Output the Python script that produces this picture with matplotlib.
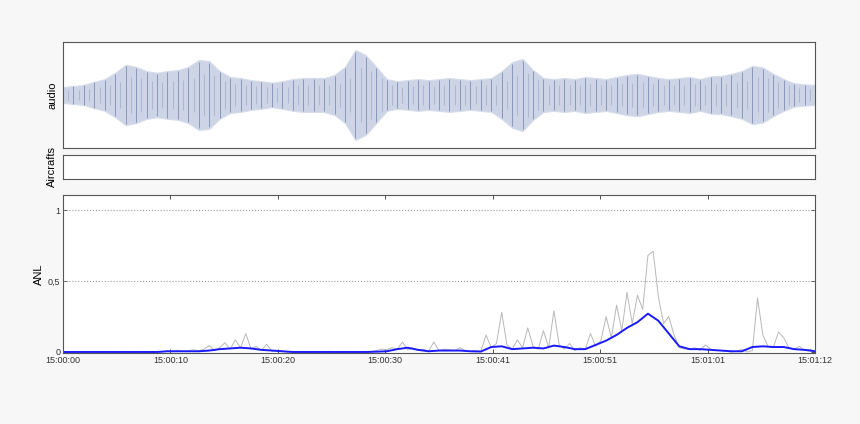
import matplotlib.pyplot as plt
import numpy as np

plt.rcParams['font.family'] = ['Liberation Sans', 'DejaVu Sans']

# audio envelope (amplitude, one value per second, 0..72 s)
audio_env = [0.15, 0.17, 0.19, 0.25, 0.30, 0.42, 0.57, 0.53, 0.45, 0.42,
             0.45, 0.47, 0.53, 0.66, 0.64, 0.45, 0.34, 0.32, 0.28, 0.26,
             0.23, 0.26, 0.30, 0.32, 0.32, 0.32, 0.38, 0.53, 0.85, 0.75,
             0.53, 0.30, 0.26, 0.28, 0.30, 0.28, 0.30, 0.32, 0.30, 0.28,
             0.30, 0.32, 0.45, 0.62, 0.68, 0.47, 0.32, 0.30, 0.32, 0.30,
             0.34, 0.32, 0.30, 0.34, 0.38, 0.40, 0.36, 0.32, 0.30, 0.32,
             0.34, 0.30, 0.35, 0.36, 0.40, 0.45, 0.55, 0.52, 0.40, 0.30,
             0.22, 0.20, 0.19]
audio_t = np.arange(len(audio_env))

# raw ANL, every 0.5 s
anl_raw = [0.0, 0.0, 0.0, 0.003, 0.0, 0.0, 0.002, 0.0, 0.0, 0.002,
           0.0, 0.0, 0.003, 0.0, 0.0, 0.002, 0.0, 0.0, 0.002, 0.0,
           0.008, 0.004, 0.012, 0.006, 0.01, 0.015, 0.008, 0.02, 0.045, 0.01,
           0.03, 0.065, 0.02, 0.085, 0.03, 0.13, 0.02, 0.04, 0.01, 0.055,
           0.005, 0.01, 0.003, 0.0, 0.0, 0.002, 0.0, 0.0, 0.003, 0.0,
           0.0, 0.005, 0.0, 0.0, 0.002, 0.0, 0.0, 0.0, 0.0, 0.003,
           0.01, 0.02, 0.015, 0.03, 0.02, 0.07, 0.015, 0.03, 0.01, 0.02,
           0.005, 0.07, 0.01, 0.02, 0.015, 0.01, 0.03, 0.01, 0.005, 0.01,
           0.005, 0.12, 0.03, 0.06, 0.28, 0.05, 0.02, 0.085, 0.03, 0.17,
           0.04, 0.02, 0.15, 0.03, 0.29, 0.05, 0.02, 0.06, 0.01, 0.03,
           0.02, 0.13, 0.04, 0.08, 0.25, 0.10, 0.33, 0.15, 0.42, 0.20,
           0.40, 0.30, 0.68, 0.71, 0.39, 0.20, 0.25, 0.12, 0.03, 0.02,
           0.02, 0.03, 0.01, 0.05, 0.02, 0.01, 0.01, 0.005, 0.0, 0.005,
           0.02, 0.0, 0.01, 0.38, 0.12, 0.04, 0.03, 0.14, 0.10, 0.03,
           0.02, 0.04, 0.01, 0.02, 0.005]
raw_t = np.arange(len(anl_raw)) * 0.5

# smoothed ANL, one value per second
anl_smooth = [0.0, 0.0, 0.0, 0.0, 0.0, 0.0, 0.0, 0.0, 0.0, 0.0,
              0.005, 0.005, 0.005, 0.005, 0.01, 0.02, 0.025, 0.03, 0.025, 0.015,
              0.01, 0.005, 0.0, 0.0, 0.0, 0.0, 0.0, 0.0, 0.0, 0.0,
              0.002, 0.005, 0.02, 0.03, 0.015, 0.005, 0.01, 0.01, 0.01, 0.005,
              0.003, 0.035, 0.04, 0.02, 0.025, 0.03, 0.025, 0.045, 0.035, 0.02,
              0.02, 0.05, 0.08, 0.12, 0.17, 0.21, 0.27, 0.22, 0.13, 0.04,
              0.02, 0.02, 0.015, 0.01, 0.005, 0.005, 0.035, 0.04, 0.035, 0.035,
              0.02, 0.015, 0.005]
smooth_t = np.arange(len(anl_smooth))

tick_pos = np.linspace(0, 72, 8)
tick_labels = ['15:00:00', '15:00:10', '15:00:20', '15:00:30',
               '15:00:41', '15:00:51', '15:01:01', '15:01:12']

fig = plt.figure(figsize=(8.6, 4.24), dpi=100, facecolor='#f7f7f7')
left, width = 0.0733, 0.8744
ax1 = fig.add_axes([left, 0.651, width, 0.25])
ax2 = fig.add_axes([left, 0.578, width, 0.0566])
ax3 = fig.add_axes([left, 0.1675, width, 0.3726])

for ax in (ax1, ax2, ax3):
    ax.set_xlim(0, 72)
    for s in ax.spines.values():
        s.set_color('#555555')
        s.set_linewidth(0.8)

# audio
env = np.array(audio_env)
ax1.fill_between(audio_t, -env, env, color='#cdd4e5', lw=0.8, edgecolor='#d6dcea')
ax1.vlines(audio_t, -env * 0.95, env * 0.95, color='#7f8fb5', lw=0.6)
ax1.vlines(audio_t + 0.5, -env * 0.6, env * 0.6, color='#9eabca', lw=0.5)
ax1.set_ylim(-1, 1)
ax1.set_xticks([])
ax1.set_yticks([])
ax1.set_ylabel('audio', fontsize=8, labelpad=4)

# aircrafts
ax2.set_xticks([])
ax2.set_yticks([])
ax2.set_ylabel('Aircrafts', fontsize=8, labelpad=4)

# ANL
ax3.axhline(1, color='#999999', ls=':', lw=0.8)
ax3.axhline(0.5, color='#999999', ls=':', lw=0.8)
ax3.plot(raw_t, anl_raw, color='#b8b8b8', lw=0.7)
ax3.plot(smooth_t, anl_smooth, color='#1a1aff', lw=1.4)
ax3.set_ylim(-0.007, 1.106)
ax3.set_yticks([0, 0.5, 1])
ax3.set_yticklabels(['0', '0,5', '1'])
ax3.set_xticks(tick_pos)
ax3.set_xticklabels(tick_labels)
ax3.tick_params(axis='both', direction='in', length=3, width=0.6, labelsize=6.5,
                top=True, right=True, pad=2, colors='#333333')
ax3.set_ylabel('ANL', fontsize=8, labelpad=3)

fig.savefig('out.png', dpi=100, facecolor=fig.get_facecolor())
